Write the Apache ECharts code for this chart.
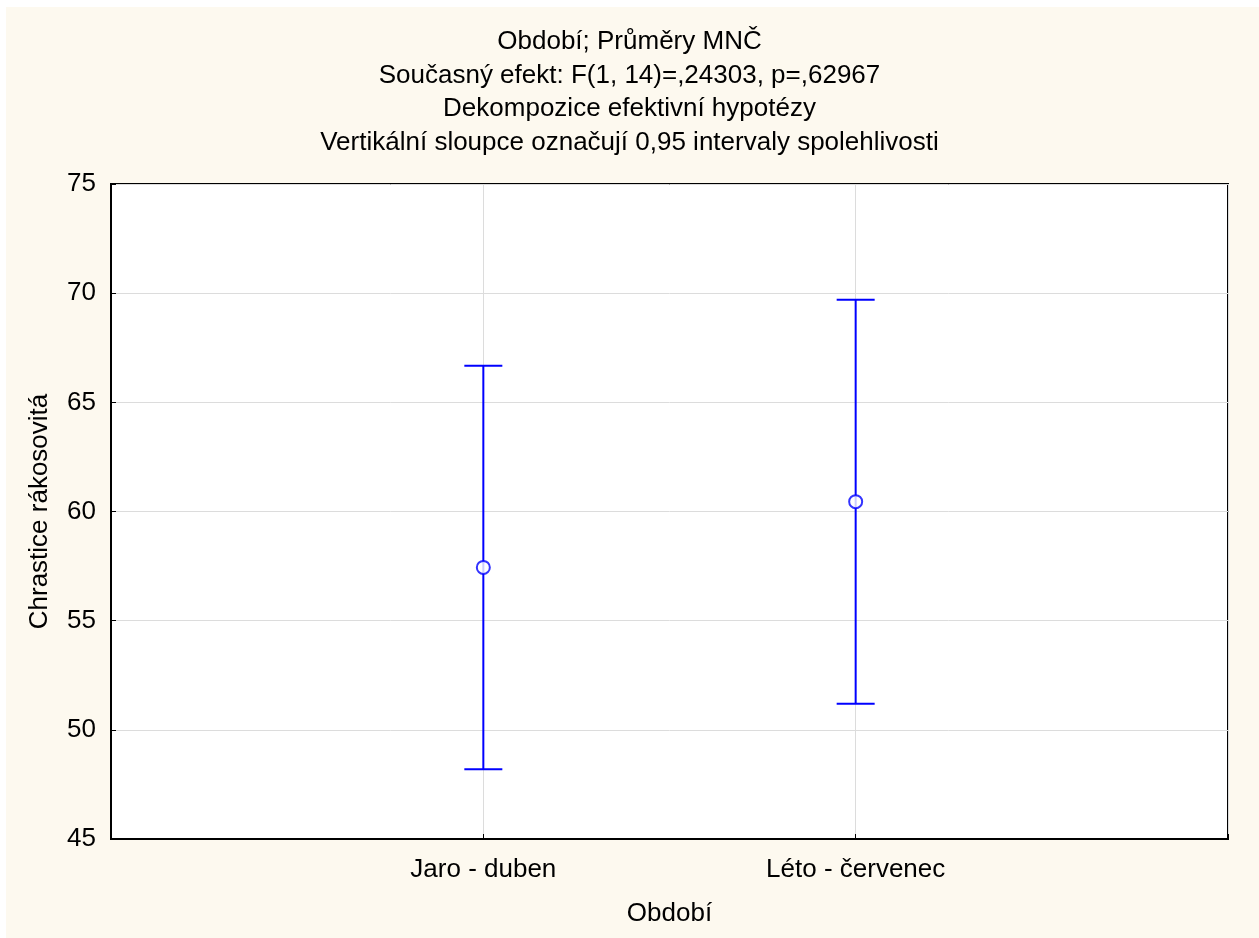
<!DOCTYPE html>
<html>
<head>
<meta charset="utf-8">
<script src="https://cdn.jsdelivr.net/npm/echarts@6/dist/echarts.min.js"></script>
<style>
  html, body { margin: 0; padding: 0; background: #fff; }
  #chart { width: 1259px; height: 938px; }
</style>
</head>
<body>
<div id="chart"></div>
<script>
// Období; Průměry MNČ - průměry s 0,95 intervaly spolehlivosti

const titleLines = [
  'Období; Průměry MNČ',
  'Současný efekt: F(1, 14)=,24303, p=,62967',
  'Dekompozice efektivní hypotézy',
  'Vertikální sloupce označují 0,95 intervaly spolehlivosti'
];
const categories = ['Jaro - duben', 'Léto - červenec'];
const means = [57.44, 60.45];
const lower = [48.2, 51.19];
const upper = [66.68, 69.7];
const yTicks = [45, 50, 55, 60, 65, 70, 75];

const FONT = 'Liberation Sans, Arial, sans-serif';
const FS = 26;
const BLUE = '#0000ff';

// pozice kategorií na ose x: 1, 2 (osa 0..3)
const catPos = categories.map((c, i) => i + 1);

const chart = echarts.init(document.getElementById('chart'));

chart.setOption({
  animation: false,
  backgroundColor: '#fff',
  graphic: [{
    type: 'rect',
    z: -10,
    shape: { x: 6, y: 7, width: 1259, height: 938 },
    style: { fill: '#fdf9ef' }
  }],
  title: {
    text: titleLines.join('\n'),
    left: 'center',
    top: 20,
    textStyle: {
      fontFamily: FONT,
      fontSize: FS,
      fontWeight: 'normal',
      color: '#000',
      lineHeight: 33.7
    }
  },
  grid: {
    left: 111,
    top: 184,
    width: 1117,
    height: 655,
    show: true,
    backgroundColor: '#fff',
    borderColor: '#000',
    borderWidth: 2
  },
  xAxis: {
    type: 'value',
    min: 0,
    max: 3,
    interval: 1,
    name: 'Období',
    nameLocation: 'middle',
    nameGap: 62,
    nameTextStyle: { fontFamily: FONT, fontSize: FS, color: '#000' },
    axisLine: { show: true, lineStyle: { color: '#000', width: 2 } },
    axisTick: { show: true, inside: true, length: 5, lineStyle: { color: '#000' } },
    axisLabel: {
      margin: 18,
      fontFamily: FONT,
      fontSize: FS,
      color: '#000',
      formatter: v => categories[v - 1] || ''
    },
    splitLine: { show: true, lineStyle: { color: '#dcdcdc', width: 1 } }
  },
  yAxis: {
    type: 'value',
    min: yTicks[0],
    max: yTicks[yTicks.length - 1],
    interval: 5,
    name: 'Chrastice rákosovitá',
    nameLocation: 'middle',
    nameGap: 58,
    nameTextStyle: { fontFamily: FONT, fontSize: FS, color: '#000' },
    axisLine: { show: true, lineStyle: { color: '#000', width: 2 } },
    axisTick: { show: true, inside: true, length: 5, lineStyle: { color: '#000' } },
    axisLabel: { margin: 15, fontFamily: FONT, fontSize: FS, color: '#000', padding: [4, 0, 0, 0] },
    splitLine: { show: true, lineStyle: { color: '#dcdcdc', width: 1 } }
  },
  series: [
    {
      type: 'custom',
      data: catPos.map((x, i) => [x, lower[i], upper[i]]),
      renderItem: (params, api) => {
        const lo = api.coord([api.value(0), api.value(1)]);
        const hi = api.coord([api.value(0), api.value(2)]);
        const half = 19;
        const style = { stroke: BLUE, lineWidth: 2 };
        return {
          type: 'group',
          children: [
            { type: 'line', shape: { x1: lo[0], y1: lo[1], x2: hi[0], y2: hi[1] }, style },
            { type: 'line', shape: { x1: hi[0] - half, y1: hi[1], x2: hi[0] + half, y2: hi[1] }, style },
            { type: 'line', shape: { x1: lo[0] - half, y1: lo[1], x2: lo[0] + half, y2: lo[1] }, style }
          ]
        };
      },
      z: 2
    },
    {
      type: 'scatter',
      data: catPos.map((x, i) => [x, means[i]]),
      symbol: 'circle',
      symbolSize: 13,
      itemStyle: { color: '#fff', borderColor: BLUE, borderWidth: 2 },
      z: 3
    }
  ]
});
</script>
</body>
</html>
